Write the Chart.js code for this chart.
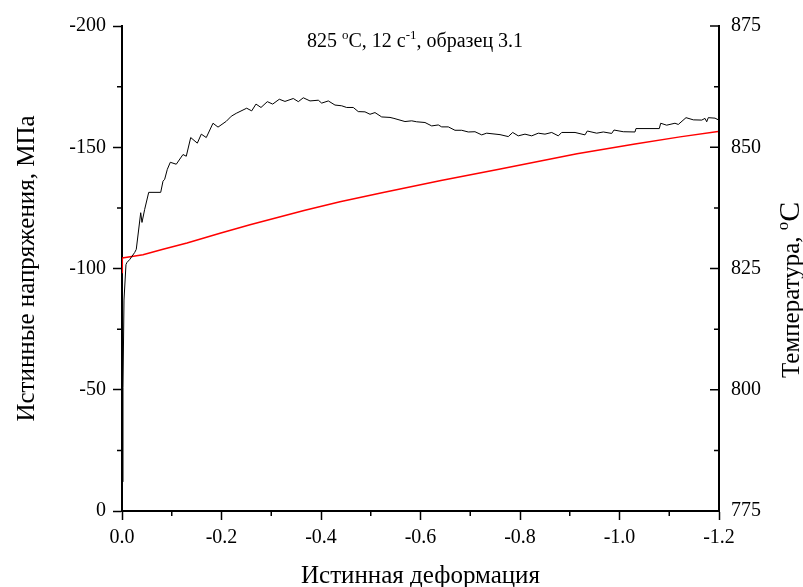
<!DOCTYPE html>
<html>
<head>
<meta charset="utf-8">
<script src="https://cdn.jsdelivr.net/npm/chart.js@4.4.1/dist/chart.umd.min.js"></script>
<style>
  html, body { margin: 0; padding: 0; background: #fff; }
</style>
</head>
<body>
<canvas id="chart" width="803" height="587"></canvas>
<script>
const stressStrain = [0, -0.002, -0.004, -0.008, -0.010, -0.0155, -0.0255, -0.0287, -0.0376, -0.0402, -0.0456, -0.0537, -0.0778, -0.0824, -0.0858, -0.0911, -0.0971, -0.1091, -0.1226, -0.1292, -0.1381, -0.1514, -0.1594, -0.1694, -0.1829, -0.193, -0.2096, -0.2197, -0.2297, -0.2506, -0.2607, -0.2693, -0.2794, -0.2921, -0.3029, -0.3162, -0.3276, -0.3443, -0.3544, -0.3644, -0.3779, -0.3946, -0.4014, -0.4147, -0.4281, -0.4416, -0.4516, -0.4649, -0.4749, -0.4884, -0.4985, -0.5085, -0.522, -0.5387, -0.5467, -0.5688, -0.5823, -0.5923, -0.609, -0.6225, -0.6358, -0.6426, -0.6559, -0.6693, -0.6828, -0.696, -0.7095, -0.723, -0.733, -0.7598, -0.7765, -0.7853, -0.7965, -0.81, -0.8235, -0.8368, -0.8502, -0.8637, -0.877, -0.8838, -0.9106, -0.9306, -0.9353, -0.9542, -0.9675, -0.9843, -0.9889, -1.0076, -1.0311, -1.0331, -1.08, -1.0828, -1.0948, -1.1115, -1.1182, -1.1337, -1.1484, -1.1653, -1.1719, -1.1753, -1.1785, -1.192, -1.1987];
const stressValues = [-12, -51, -87, -101.6, -102.5, -103.7, -106.6, -107.9, -123, -119, -124.4, -131.4, -131.4, -136, -136.8, -140.9, -143.8, -143, -147, -146.3, -154, -151.7, -155.4, -154, -159.9, -158.3, -160.7, -162.8, -164, -166.1, -165, -167.8, -166.4, -168.8, -167.8, -169.8, -168.9, -170.1, -168.8, -170.4, -169.1, -169.4, -168.2, -169.1, -167.4, -167.1, -166.4, -166.4, -164.7, -164.6, -163.6, -164.3, -162.5, -162.3, -161.9, -160.6, -160.9, -160.5, -160.2, -158.8, -159.2, -158.4, -158.4, -157, -157, -156.3, -156.4, -155.1, -155.8, -155.2, -154.4, -156.1, -154.7, -155.4, -154.7, -155.8, -155.4, -156.1, -154.7, -156.1, -156.1, -155.1, -156.7, -155.8, -156.3, -155.7, -157.1, -156.4, -156.3, -157.7, -157.7, -159.9, -159.1, -159.9, -159.4, -162.2, -161.3, -161.2, -161.9, -160.5, -162.2, -162, -161.3];

const tempStrain = [0, -0.0006, -0.0422, -0.0824, -0.1307, -0.197, -0.2573, -0.3678, -0.4382, -0.5226, -0.6412, -0.7578, -0.9146, -1.0311, -1.1216, -1.198];
const tempValues = [824.2, 827.15, 827.83, 828.96, 830.24, 832.26, 834.01, 837.0, 838.75, 840.6, 843.14, 845.48, 848.68, 850.69, 852.14, 853.23];

const titleParts = [["825 ", 0], ["o", 1], ["C, 12 с", 0], ["-1", 1], [", образец 3.1", 0]];
const xTitle = "Истинная деформация";
const yTitle = "Истинные напряжения, МПа";
const y1Parts = [["Температура, ", 0], ["o", 1], ["C", 2]];

const FONT = '"Liberation Serif", "Times New Roman", serif';

function pairs(xs, ys) {
  return xs.map((x, i) => ({ x, y: ys[i] }));
}

function minorValues(scale) {
  const out = [];
  const t = scale.ticks;
  for (let i = 0; i < t.length - 1; i++) out.push((t[i].value + t[i + 1].value) / 2);
  return out;
}

function drawParts(ctx, parts, x, y, sizes) {
  for (const [text, kind] of parts) {
    ctx.font = `${sizes[kind].size}px ${FONT}`;
    ctx.fillText(text, x, y + sizes[kind].dy);
    x += ctx.measureText(text).width;
  }
}

const extras = {
  id: "extras",
  afterDraw(chart) {
    const ctx = chart.ctx;
    const { left, right, bottom } = chart.chartArea;
    const xs = chart.scales.x, yl = chart.scales.y, yr = chart.scales.y1;
    ctx.save();
    ctx.strokeStyle = "#000";
    ctx.lineWidth = 1.5;
    ctx.beginPath();
    for (const v of minorValues(xs)) {
      const px = xs.getPixelForValue(v);
      ctx.moveTo(px, bottom); ctx.lineTo(px, bottom + 5);
    }
    for (const v of minorValues(yl)) {
      const py = yl.getPixelForValue(v);
      ctx.moveTo(left, py); ctx.lineTo(left - 5, py);
    }
    for (const t of yr.ticks) {
      const py = yr.getPixelForValue(t.value);
      ctx.moveTo(right, py); ctx.lineTo(right - 9, py);
    }
    for (const v of minorValues(yr)) {
      const py = yr.getPixelForValue(v);
      ctx.moveTo(right, py); ctx.lineTo(right - 5, py);
    }
    ctx.stroke();

    ctx.fillStyle = "#000";
    ctx.textAlign = "left";
    ctx.textBaseline = "alphabetic";
    drawParts(ctx, titleParts, 307, 47, [{ size: 20, dy: 0 }, { size: 13, dy: -8 }]);

    ctx.translate(799, 378);
    ctx.rotate(-Math.PI / 2);
    drawParts(ctx, y1Parts, 0, 0, [{ size: 25, dy: 0 }, { size: 17, dy: -11 }, { size: 30, dy: 0 }]);
    ctx.restore();
  }
};

const tickFont = { family: FONT, size: 20 };

new Chart(document.getElementById("chart"), {
  type: "line",
  data: {
    datasets: [{
      data: pairs(stressStrain, stressValues),
      yAxisID: "y",
      borderColor: "#000",
      borderWidth: 1,
      pointRadius: 0,
      tension: 0
    }, {
      data: pairs(tempStrain, tempValues),
      yAxisID: "y1",
      borderColor: "#ff0000",
      borderWidth: 1.5,
      pointRadius: 0,
      tension: 0
    }]
  },
  options: {
    responsive: false,
    animation: false,
    layout: { padding: { top: 26, left: 0, right: 0, bottom: 0 } },
    plugins: { legend: { display: false }, tooltip: { enabled: false } },
    scales: {
      x: {
        type: "linear",
        reverse: true,
        min: -1.2,
        max: 0,
        grid: { display: true, drawOnChartArea: false, drawTicks: true, tickLength: 9, tickColor: "#000", tickWidth: 1.5 },
        border: { display: true, color: "#000", width: 2 },
        ticks: { stepSize: 0.2, color: "#000", font: tickFont, padding: 6, maxRotation: 0, callback: v => Number(v).toFixed(1) },
        title: { display: true, text: xTitle, color: "#000", font: { family: FONT, size: 25, lineHeight: 1 }, padding: { top: 0, bottom: -2 } },
        afterFit: s => { s.height = 76; }
      },
      y: {
        position: "left",
        reverse: true,
        min: -200,
        max: 0,
        grid: { display: true, drawOnChartArea: false, drawTicks: true, tickLength: 9, tickColor: "#000", tickWidth: 1.5 },
        border: { display: true, color: "#000", width: 2 },
        ticks: { stepSize: 50, color: "#000", font: tickFont, padding: 7, callback: v => String(v) },
        title: { display: true, text: yTitle, color: "#000", font: { family: FONT, size: 25, lineHeight: 1 }, padding: { top: 15, bottom: 0 } },
        afterFit: s => { s.width = 122; }
      },
      y1: {
        position: "right",
        min: 775,
        max: 875,
        grid: { display: false, drawTicks: false },
        border: { display: true, color: "#000", width: 2 },
        ticks: { stepSize: 25, color: "#000", font: tickFont, padding: 12, callback: v => String(v) },
        afterFit: s => { s.width = 84; }
      }
    }
  },
  plugins: [extras]
});
</script>
</body>
</html>
